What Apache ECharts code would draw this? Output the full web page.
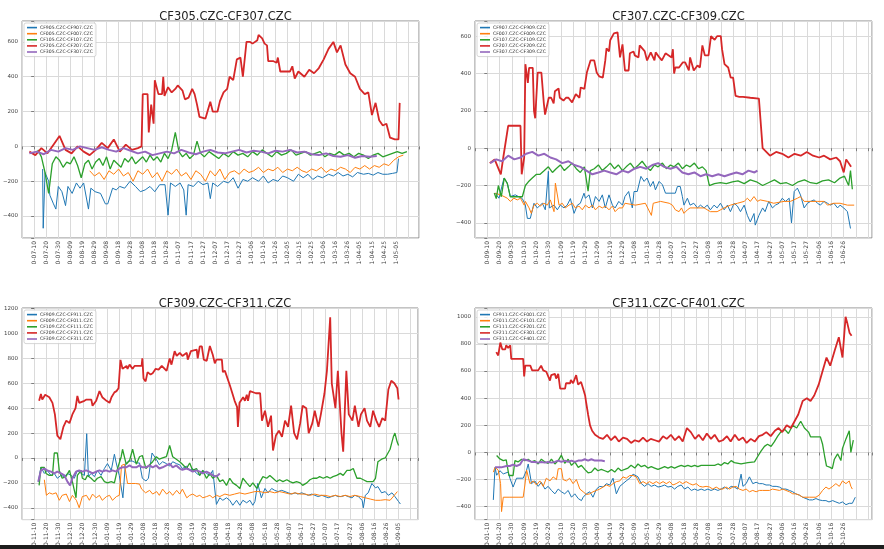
<!DOCTYPE html>
<html><head><meta charset="utf-8">
<script src="https://cdn.jsdelivr.net/npm/echarts@6/dist/echarts.min.js"></script>
<style>html,body{margin:0;padding:0;background:#fff}#c{width:884px;height:549px}</style>
</head><body><div id="c"></div>
<script>
// ---------- DATA (x = days after the first labelled tick) ----------
const p1Title = 'CF305.CZC-CF307.CZC';
const p1Names = ['CF905.CZC-CF907.CZC','CF005.CZC-CF007.CZC','CF105.CZC-CF107.CZC','CF205.CZC-CF207.CZC','CF305.CZC-CF307.CZC'];
const p1Labels = ['0-07-10','0-07-20','0-07-30','0-08-09','0-08-19','0-08-29','0-09-08','0-09-18','0-09-28','0-10-08','0-10-18','0-10-28','0-11-07','0-11-17','0-11-27','0-12-07','0-12-17','0-12-27','1-01-06','1-01-16','1-01-26','1-02-05','1-02-15','1-02-25','1-03-06','1-03-16','1-03-26','1-04-05','1-04-15','1-04-25','1-05-05'];
const p1Blue = [[7,-130],[7.5,-470],[9,-150],[12,-200],[13,-280],[16,-330],[18,-360],[20,-230],[23,-260],[26,-340],[28,-230],[31.5,-270],[35,-210],[38,-240],[41,-210],[45,-360],[47,-240],[50.5,-260],[55,-270],[59,-330],[61,-330],[65,-240],[68,-250],[71,-230],[75,-240],[79.5,-200],[84,-230],[88,-260],[92,-250],[96,-230],[100,-260],[104,-220],[108.5,-220],[111,-395],[113,-210],[117,-230],[121,-210],[124,-250],[126,-395],[127.6,-220],[132,-230],[136,-200],[140,-220],[144,-210],[146,-300],[148,-210],[152,-230],[157,-200],[161,-210],[165,-180],[169,-240],[173,-190],[177,-200],[181,-180],[186,-200],[190,-170],[194,-210],[198,-190],[202,-200],[206,-170],[210,-180],[215,-200],[219,-160],[223,-180],[227,-160],[231,-190],[235,-170],[239,-180],[244,-160],[248,-170],[252,-150],[256,-170],[260,-160],[264,-175],[268,-150],[273,-160],[277,-155],[281,-165],[285,-150],[289,-160],[293,-160],[297,-155],[300.7,-150],[302,-70]];
const p1Orange = [[46,-140],[50,-170],[54,-150],[58,-190],[62,-140],[66,-160],[70,-130],[74,-170],[78,-150],[82,-200],[86,-140],[90,-160],[94,-130],[98,-180],[102,-150],[106,-200],[110,-140],[114,-160],[118,-130],[122,-170],[126,-150],[130,-190],[134,-140],[138,-160],[142,-200],[146,-140],[150,-170],[154,-130],[158,-190],[162,-150],[166,-140],[170,-160],[174,-130],[178,-150],[182,-140],[186,-120],[190,-150],[194,-130],[198,-140],[202,-120],[206,-150],[210,-130],[214,-140],[218,-120],[222,-140],[226,-150],[230,-130],[234,-140],[238,-120],[242,-150],[246,-130],[250,-140],[254,-120],[258,-130],[262,-150],[266,-120],[270,-130],[274,-110],[278,-130],[282,-110],[286,-120],[290,-100],[294,-110],[298,-80],[302,-60],[306,-50]];
const p1Green = [[3,-20],[6,-60],[9,-150],[12,-270],[15,-100],[18,-60],[21,-80],[24,-120],[27,-90],[30,-100],[33,-60],[36,-110],[39,-180],[42,-100],[45,-80],[48,-130],[51,-90],[54,-70],[57,-110],[60,-60],[63,-130],[66,-80],[69,-100],[72,-120],[75,-70],[78,-90],[81,-60],[84,-100],[87,-80],[90,-60],[93,-90],[96,-50],[99,-80],[102,-60],[105,-90],[108,-40],[111,-70],[114,-20],[117,80],[120,-30],[123,-60],[126,-40],[129,-70],[132,-50],[135,30],[138,-40],[141,-60],[145,-30],[149,-50],[153,-70],[157,-40],[161,-60],[165,-30],[169,-50],[173,-40],[177,-60],[181,-30],[185,-50],[189,-20],[193,-40],[197,-60],[201,-30],[205,-50],[209,-40],[213,-20],[217,-50],[221,-40],[225,-30],[229,-50],[233,-40],[237,-30],[241,-60],[245,-40],[249,-50],[253,-30],[257,-50],[261,-40],[265,-60],[269,-40],[273,-50],[277,-70],[281,-50],[285,-40],[289,-60],[293,-50],[297,-40],[301,-30],[305,-40],[309,-30]];
const p1Red = [[-4,-30],[1,-50],[6,-10],[11,-40],[16,10],[21,60],[26,-20],[31,-40],[36,0],[41,-30],[46,-50],[51,-20],[56,20],[61,-10],[66,40],[71,-30],[76,10],[81,-20],[86,-10],[89,0],[90,300],[94,300],[95,80],[97,240],[99,130],[100,380],[103,300],[106,300],[107,400],[108,290],[111,340],[114,310],[117,330],[119,350],[123,320],[125,270],[128,280],[131,330],[133,300],[135,240],[137,170],[142,160],[146,257],[148,200],[152,200],[154,260],[157,310],[160,330],[162,400],[165,380],[168,500],[171,510],[173,400],[176,600],[179,600],[181,590],[185,610],[186,640],[189,620],[191,590],[193,580],[194,490],[198,490],[201,480],[202,510],[204,430],[212,430],[214,460],[216,390],[219,430],[224,400],[228,440],[232,420],[236,450],[240,500],[244,560],[248,600],[251,540],[254,580],[258,470],[262,420],[266,400],[270,330],[274,300],[277,310],[280,180],[283,250],[286,150],[289,120],[292,130],[295,50],[299,40],[302,40],[303,250]];
const p1Purple = [[-4,-40],[2,-30],[8,-45],[14,-20],[20,-30],[26,-10],[32,-20],[38,0],[44,-10],[50,-20],[56,-5],[62,-20],[68,-30],[74,-10],[80,-25],[86,-40],[92,-30],[98,-50],[104,-40],[110,-30],[116,-40],[122,-20],[128,-35],[134,-45],[140,-30],[146,-20],[152,-35],[158,-40],[164,-30],[170,-20],[176,-35],[182,-25],[188,-30],[194,-40],[200,-25],[206,-30],[212,-20],[218,-35],[224,-30],[230,-45],[236,-50],[242,-40],[248,-55],[254,-60],[260,-50],[266,-65],[272,-55],[278,-60],[284,-55]];

const p2Title = 'CF307.CZC-CF309.CZC';
const p2Names = ['CF907.CZC-CF909.CZC','CF007.CZC-CF009.CZC','CF107.CZC-CF109.CZC','CF207.CZC-CF209.CZC','CF307.CZC-CF309.CZC'];
const p2Labels = ['0-09-10','0-09-20','0-09-30','0-10-10','0-10-20','0-10-30','0-11-09','0-11-19','0-11-29','0-12-09','0-12-19','0-12-29','1-01-08','1-01-18','1-01-28','1-02-07','1-02-17','1-02-27','1-03-08','1-03-18','1-03-28','1-04-07','1-04-17','1-04-27','1-05-07','1-05-17','1-05-27','1-06-06','1-06-16','1-06-26'];
const p2Blue = [[6.5,-241],[9.5,-268],[13.6,-160],[16.3,-187],[18.7,-259],[22.8,-250],[28.5,-270],[30.9,-303],[32.6,-376],[35,-376],[38,-295],[40.7,-320],[44.8,-295],[47.2,-330],[49.7,-124],[50.5,-320],[54.3,-305],[57,-330],[59.4,-305],[62.4,-320],[65,-305],[67.6,-270],[70.6,-349],[73.3,-305],[75.7,-295],[78.7,-241],[79.8,-268],[82.8,-250],[85.5,-320],[88,-259],[91,-285],[93.6,-250],[96,-320],[99,-250],[101.8,-305],[104,-320],[107,-285],[110,-305],[112,-259],[115,-232],[118,-320],[119.4,-232],[122,-232],[125,-151],[127.6,-178],[130,-160],[132.7,-205],[135,-178],[136.8,-223],[139.8,-178],[142.5,-196],[145,-241],[153,-241],[154.7,-205],[157,-205],[158.7,-259],[160,-305],[162.8,-268],[165,-305],[168,-295],[171,-320],[173.4,-305],[176.4,-320],[179,-305],[181.5,-330],[184.5,-305],[187,-320],[189.7,-295],[192.7,-330],[195.4,-305],[197.8,-340],[200.8,-295],[203.5,-310],[206,-340],[209,-305],[211.6,-360],[214,-395],[217,-350],[218,-412],[221,-360],[224,-320],[226,-340],[229,-285],[232,-320],[234.4,-305],[237.4,-295],[240,-268],[242.6,-285],[245.6,-268],[247.5,-400],[249.7,-232],[252.3,-214],[254.8,-250],[257.8,-320],[260.5,-295],[263,-285],[266,-277],[268.6,-295],[271,-305],[274,-285],[276.8,-295],[279,-305],[282,-295],[285,-320],[287,-305],[290,-320],[293,-340],[295.5,-430]];
const p2Orange = [[6.5,-241],[8,-232],[10.6,-250],[13.6,-259],[16.3,-268],[18.7,-285],[21.7,-268],[24.4,-277],[27,-268],[30,-305],[31,-285],[34,-320],[35.8,-349],[38,-305],[40.7,-295],[43,-310],[46,-295],[48.8,-305],[51.3,-277],[54.3,-340],[55.4,-187],[58.4,-305],[61,-295],[63.5,-320],[66.5,-305],[69.2,-295],[71.6,-320],[74.6,-310],[77.3,-330],[79.8,-305],[82.8,-320],[85.5,-305],[88,-330],[91,-310],[93.6,-320],[96,-310],[99,-330],[101.8,-310],[104,-340],[107,-320],[110,-320],[112,-295],[120.5,-305],[128.6,-295],[133.5,-360],[135,-295],[141,-285],[148,-295],[150.6,-305],[153,-330],[156,-340],[158,-320],[160,-349],[162.8,-330],[165,-320],[171,-320],[176.4,-320],[181.5,-340],[187,-340],[192.7,-320],[197.8,-305],[203.5,-295],[209,-285],[211.6,-268],[214,-285],[217,-259],[219.8,-285],[222,-277],[228,-285],[233,-295],[241.5,-285],[246.6,-285],[252.3,-268],[254.8,-259],[257.8,-285],[263,-285],[268.6,-285],[274,-285],[276.8,-305],[282,-295],[287,-295],[293,-305],[298.5,-305]];
const p2Green = [[5.7,-240],[7.3,-270],[9,-200],[11.4,-260],[13.8,-160],[16.3,-190],[18.7,-260],[23.6,-260],[28.5,-260],[31,-200],[33.4,-180],[36.6,-160],[40,-140],[43,-140],[46.4,-120],[49.7,-100],[53,-130],[56,-110],[59.4,-90],[62.7,-120],[66,-100],[69,-80],[72.4,-110],[75.7,-130],[79,-100],[82,-230],[83.8,-120],[87,-110],[90.4,-90],[93.6,-120],[97,-100],[100,-80],[103.4,-110],[106.6,-90],[110,-120],[113,-100],[116.4,-80],[119.7,-110],[123,-90],[126,-70],[129.4,-100],[132.7,-120],[136,-90],[139,-100],[142.5,-80],[145.7,-110],[149,-90],[152,-100],[155.5,-80],[158.7,-110],[162,-90],[165,-100],[168.5,-80],[171.8,-110],[175,-100],[178,-120],[180.7,-200],[184.8,-190],[189.7,-185],[194.5,-190],[199.4,-180],[204,-175],[209,-190],[214,-170],[219,-180],[224,-200],[228.7,-185],[233.6,-170],[238.5,-190],[243.4,-185],[248.3,-200],[253,-180],[258,-170],[263,-185],[268,-190],[272.7,-175],[277.6,-170],[282.5,-185],[287,-160],[290.6,-150],[294,-200],[295.5,-120],[297,-220]];
const p2Red = [[2,-80],[6,-60],[11,-140],[13,-50],[17,120],[23,120],[27,120],[28,-140],[30,-50],[31,450],[33,350],[34,430],[37,430],[38,200],[39,160],[41,405],[44,405],[46,240],[47,180],[50,270],[52,270],[54,240],[55,305],[58,320],[59,270],[62,255],[64,270],[66,270],[69,245],[72,290],[75,270],[76,325],[79,318],[81,405],[84,470],[87,470],[89,405],[91,385],[94,378],[96,470],[97,535],[99,518],[100,578],[103,615],[106,620],[107,620],[108,486],[110,556],[112,416],[115,416],[116,508],[119,518],[120,497],[123,486],[124,550],[128,520],[130,470],[133,513],[136,470],[137,513],[140,486],[142,470],[145,508],[150,486],[151,530],[152,400],[153,432],[156,432],[159,459],[161,459],[164,416],[165,486],[168,416],[171,443],[173,432],[175,550],[177,497],[180,497],[182,600],[185,580],[187,600],[190,600],[191,530],[193,450],[196,432],[198,378],[200,378],[202,280],[205,275],[208,275],[214,270],[221,265],[224,0],[227,-20],[230,-40],[235,-20],[240,-30],[245,-50],[250,-30],[255,-40],[260,-20],[265,-40],[270,-50],[274,-40],[279,-60],[284,-50],[287,-70],[290,-130],[292,-60],[296,-100]];
const p2Purple = [[2.4,-80],[7.3,-60],[12,-70],[17,-40],[22,-60],[27,-50],[31.7,-30],[36.6,-20],[41.5,-40],[46.4,-30],[51.3,-50],[56,-60],[61,-80],[66,-70],[70.8,-90],[75.7,-100],[80.6,-120],[85.5,-140],[90.4,-130],[95.2,-120],[100,-130],[105,-140],[110,-120],[114.8,-130],[119.7,-110],[124.5,-100],[129.4,-110],[134.3,-90],[139,-80],[144,-100],[149,-110],[153.8,-100],[158.7,-130],[163.6,-140],[168.5,-130],[173.4,-150],[178,-140],[183,-150],[188,-140],[193,-150],[197.8,-140],[202.7,-130],[207.6,-140],[212.5,-120],[217.4,-130],[219.8,-120]];

const p3Title = 'CF309.CZC-CF311.CZC';
const p3Names = ['CF909.CZC-CF911.CZC','CF009.CZC-CF011.CZC','CF109.CZC-CF111.CZC','CF209.CZC-CF211.CZC','CF309.CZC-CF311.CZC'];
const p3Labels = ['0-11-10','0-11-20','0-11-30','0-12-10','0-12-20','0-12-30','1-01-09','1-01-19','1-01-29','1-02-08','1-02-18','1-02-28','1-03-09','1-03-19','1-03-29','1-04-08','1-04-18','1-04-28','1-05-08','1-05-18','1-05-28','1-06-07','1-06-17','1-06-27','1-07-07','1-07-17','1-07-27','1-08-06','1-08-16','1-08-26','1-09-05'];
const p3Blue = [[3.3,-192],[5.5,-75],[8.3,-124],[10.7,-100],[13.8,-140],[16.5,-124],[19,-163],[22,-140],[24.8,-150],[27.3,-124],[30.3,-140],[33,-163],[35.5,-100],[38.6,-124],[41.3,-140],[43.2,195],[44.6,-150],[46.8,-124],[49.6,-150],[52,-100],[55,-140],[57.8,-84],[60.3,-45],[63.4,-100],[66,30],[67.5,-40],[70,-140],[73,-320],[75,-50],[77.6,-25],[80.7,-25],[84,-40],[86.7,-40],[89,-163],[92,-185],[94,-163],[97,40],[100.5,-10],[103,-55],[105.7,-30],[108.8,-45],[111.5,-65],[114,-30],[117,-45],[119.8,-55],[122,-85],[125.3,-65],[128,-100],[130.5,-85],[133.6,-124],[136.3,-140],[138.8,-100],[141.8,-124],[144.6,-140],[147,-100],[150,-373],[152.8,-320],[155.3,-340],[158.3,-320],[161,-340],[163.5,-380],[166.6,-340],[169.3,-380],[171.8,-340],[174.9,-360],[177.6,-340],[180,-380],[181.7,-350],[184,-205],[187,-320],[190,-245],[192.5,-280],[195.5,-245],[198,-260],[200.7,-270],[203.8,-260],[206.5,-270],[209,-280],[212,-290],[214.8,-280],[217,-290],[220.3,-280],[223,-290],[225.5,-300],[228.6,-290],[231,-300],[233.8,-310],[236.8,-300],[239.5,-310],[242,-320],[245,-310],[248,-300],[250,-310],[253,-310],[256,-300],[258.5,-310],[261.6,-320],[264,-300],[266.8,-310],[270,-340],[271,-400],[272.6,-300],[275,-280],[278,-205],[281,-240],[283,-230],[286,-280],[289,-270],[291.6,-300],[294.6,-280],[297,-310],[300,-350],[301.5,-370]];
const p3Orange = [[8.3,-175],[10,-300],[12.4,-280],[15,-290],[18,-280],[20.6,-340],[23,-300],[26.4,-290],[29,-350],[31.4,-300],[34.7,-340],[37,-400],[39.6,-310],[43,-300],[45.4,-340],[48,-290],[51,-320],[53.7,-300],[56,-340],[59.5,-310],[62,-300],[64.4,-340],[67.7,-310],[70,-300],[71.9,-60],[74.3,-50],[76.8,-205],[80,-205],[83.4,-205],[86.7,-210],[88.4,-250],[91.7,-280],[95,-260],[97.5,-290],[100.8,-270],[103,-300],[105.7,-250],[109,-290],[111.5,-270],[114,-300],[117.3,-260],[119.8,-290],[122,-250],[125.6,-320],[128,-300],[130.5,-290],[133.8,-310],[136.3,-300],[138.8,-320],[142,-310],[144.6,-300],[147,-320],[150,-300],[152.8,-310],[157,-290],[161,-300],[165,-290],[169,-280],[173.5,-290],[177.6,-280],[181.7,-270],[186,-270],[190,-280],[194,-270],[198,-280],[202,-270],[206.5,-280],[210.6,-290],[214.8,-280],[219,-290],[223,-290],[227,-300],[231,-290],[235,-300],[239.5,-300],[243.7,-310],[248,-300],[252,-310],[256,-300],[260,-310],[264,-300],[268.5,-310],[272.6,-320],[276.7,-330],[281,-340],[285,-340],[289,-335],[293,-340],[296.5,-300],[299,-270]];
const p3Green = [[4,-220],[5.5,-75],[8.3,-75],[9.7,-125],[12.4,-140],[15,-140],[16.5,40],[19,40],[20.6,-100],[23,-163],[26,-150],[29,-100],[31.4,-190],[34.4,-320],[35.5,-140],[38.6,-100],[39.6,-163],[42,-175],[43.8,-140],[46.8,-163],[49.6,-190],[52,-163],[55,-150],[57.8,-190],[60.3,-200],[63.4,-190],[66,-200],[68.6,-85],[71.6,10],[72.7,70],[75.7,-50],[78.5,-20],[81,70],[84,-50],[86.7,10],[89,20],[92,-85],[95,-55],[97.5,-30],[100.5,10],[103,-10],[105.7,0],[108.8,10],[111.5,100],[114,10],[117,-10],[119.8,-30],[122,-50],[125.3,-85],[128,-40],[130.5,-100],[133.6,-85],[136.3,-140],[138.8,-100],[141.8,-163],[144.6,-124],[147,-163],[150,-140],[152.8,-190],[155.3,-175],[158.3,-220],[161,-163],[163.5,-200],[166.6,-220],[169.3,-245],[171.8,-163],[174.9,-200],[177.6,-230],[180,-200],[183.3,-245],[186,-190],[188.3,-150],[191.4,-163],[194,-140],[196.6,-163],[199.6,-190],[202,-175],[204.8,-190],[208,-175],[210.6,-190],[213,-200],[216,-190],[219,-200],[221,-220],[224.4,-200],[227,-175],[229.6,-163],[232.7,-163],[235,-150],[238,-163],[241,-150],[243.7,-163],[246,-150],[249,-140],[252,-124],[254.4,-140],[257.5,-100],[260,-100],[262.7,-85],[265.7,-163],[268.5,-163],[271,-175],[274,-190],[276.7,-190],[279,-190],[281,-163],[283,-30],[286,-10],[289,0],[290.5,10],[293,70],[294.6,130],[295.7,170],[297,200],[298.8,130],[300,100]];
const p3Red = [[4,459],[5.5,514],[6.6,469],[9,508],[10.7,498],[12.4,488],[13.8,482],[15,443],[17,350],[19,180],[21.5,150],[24,250],[26.4,300],[29,280],[31.4,350],[34,400],[35.5,498],[37,443],[41.3,459],[43,469],[47,469],[48,420],[51,460],[53.7,537],[56,488],[59.5,459],[62,443],[63.6,488],[66,527],[67.7,537],[69.4,560],[71,788],[72.7,716],[76,740],[76.8,716],[78.5,750],[81,716],[82.6,740],[86.7,740],[88.4,740],[89,800],[90,638],[91.7,615],[93.3,690],[95.8,670],[97.5,680],[100,716],[102.4,710],[105,740],[106.6,730],[109,700],[111.5,800],[113,750],[115.6,858],[117.3,820],[119.8,845],[122,820],[125.6,845],[126.4,790],[129,858],[130.5,845],[133.8,870],[134.6,800],[136.3,897],[138,897],[139.6,790],[142,780],[143,780],[144.6,900],[147,830],[148.7,760],[150,790],[154.5,790],[155.3,690],[157,700],[158.6,690],[161,586],[163.5,508],[165,459],[167,410],[167.7,250],[169,443],[172,488],[173.5,459],[175,508],[176,459],[177.6,537],[182.5,520],[186,520],[187.5,300],[190,380],[192.5,250],[195,340],[196.6,60],[199,180],[201.5,220],[204,170],[206.5,300],[209,250],[211.5,420],[214,200],[216.4,150],[219,280],[221,420],[224,400],[226,200],[229,280],[231,380],[234,250],[236,350],[239,520],[241,700],[243.7,1130],[245,600],[248,400],[250,700],[253,200],[254.4,50],[257,700],[259,350],[262,300],[264,420],[267,250],[269,350],[272,400],[274,300],[276.7,250],[279,380],[281.7,300],[284,250],[286.6,320],[289,300],[291.6,550],[294,620],[296.5,600],[299,560],[300,470]];
const p3Purple = [[3.3,-190],[5.5,-100],[8.3,-85],[10.7,-100],[13.8,-110],[16.5,-124],[19,-110],[22,-124],[24.8,-140],[27.3,-190],[29.5,-220],[31.4,-163],[34.4,-110],[37,-100],[39.6,-110],[42.7,-100],[45.4,-110],[48,-124],[51,-110],[53.7,-100],[56,-110],[59,-100],[62,-110],[64.4,-100],[67.5,-110],[70,-85],[72.7,-75],[75.7,-75],[78.5,-60],[81,-75],[84,-75],[86.7,-60],[89,-75],[92,-75],[95,-60],[97.5,-75],[100.5,-60],[103,-85],[105.7,-75],[108.8,-60],[111.5,-45],[114,-75],[117,-60],[119.8,-85],[122,-95],[125.3,-85],[128,-95],[130.5,-110],[133.6,-100],[136.3,-110],[138.8,-124],[141.8,-110],[144.6,-124],[147,-140],[150,-150],[152.8,-124]];

const p4Title = 'CF311.CZC-CF401.CZC';
const p4Names = ['CF911.CZC-CF001.CZC','CF011.CZC-CF101.CZC','CF111.CZC-CF201.CZC','CF211.CZC-CF301.CZC','CF311.CZC-CF401.CZC'];
const p4Labels = ['0-01-10','0-01-20','0-01-30','0-02-09','0-02-19','0-02-29','0-03-10','0-03-20','0-03-30','0-04-09','0-04-19','0-04-29','0-05-09','0-05-19','0-05-29','0-06-08','0-06-18','0-06-28','0-07-08','0-07-18','0-07-28','0-08-07','0-08-17','0-08-27','0-09-06','0-09-16','0-09-26','0-10-06','0-10-16','0-10-26'];
const p4Blue = [[4.9,-350],[6.3,-110],[7.6,-168],[10.3,-135],[13,-158],[17,-145],[18.4,-190],[21,-255],[23.8,-190],[29.2,-190],[32,-130],[33.3,-85],[36,-230],[38.7,-210],[41.4,-250],[44,-220],[46.9,-270],[49.5,-250],[52.2,-280],[55,-305],[57.7,-270],[60.3,-290],[63,-305],[65.8,-280],[68.5,-330],[71.2,-305],[74,-340],[76.6,-355],[78,-330],[80.6,-305],[83.4,-290],[86,-330],[88.8,-270],[91.5,-250],[94.2,-255],[96.9,-230],[99.6,-240],[102.3,-190],[105,-305],[107.8,-250],[110.4,-230],[113,-210],[115.9,-190],[118.6,-160],[120,-150],[122.6,-180],[125.3,-230],[128,-250],[130.7,-230],[133.4,-250],[136.2,-240],[138.9,-255],[141.5,-250],[144.3,-240],[147,-255],[149.7,-250],[152.4,-270],[155,-250],[157.8,-240],[160.5,-270],[163.2,-255],[166,-280],[168.7,-270],[171.3,-280],[174,-270],[176.8,-280],[179.5,-270],[182,-280],[185,-270],[187.6,-280],[190.3,-270],[193,-255],[195.7,-270],[198.4,-250],[201,-255],[203.8,-270],[206.5,-160],[208,-250],[210.6,-230],[213.3,-180],[216,-230],[218.7,-220],[221.4,-230],[224,-230],[226.8,-240],[229.6,-240],[232,-250],[235,-250],[237.7,-255],[240.4,-270],[243,-270],[245.8,-280],[248.5,-290],[251,-305],[254,-315],[256.6,-330],[259.3,-340],[262,-350],[264.7,-350],[267.4,-340],[270,-350],[272.8,-355],[275.5,-355],[278,-365],[281,-355],[283.6,-365],[286.4,-375],[289,-365],[291.8,-385],[294.5,-375],[297,-375],[299.4,-330]];
const p4Orange = [[4.9,-145],[6.3,-110],[8.9,-130],[10.8,-230],[11.6,-436],[13,-330],[18.4,-330],[25,-330],[29.2,-330],[30.6,-240],[32,-130],[34.7,-230],[37.4,-210],[40,-240],[42.8,-210],[45.5,-250],[48,-190],[51,-210],[53.6,-180],[56.3,-200],[57.7,-120],[60.3,-120],[61.7,-200],[64.4,-210],[67,-190],[69.8,-230],[72.5,-200],[75.3,-270],[78,-290],[80.6,-310],[83.4,-305],[86,-290],[88.8,-280],[91.5,-270],[94.2,-255],[96.9,-240],[99.6,-250],[102.3,-230],[105,-215],[107.8,-210],[110.4,-180],[113,-190],[115.9,-170],[118.6,-170],[121.2,-180],[124,-230],[126.7,-215],[129.4,-230],[132,-215],[134.8,-230],[137.5,-215],[140.2,-230],[143,-215],[145.6,-230],[148.4,-215],[151,-240],[153.7,-230],[156.5,-215],[159,-230],[161.8,-215],[164.6,-230],[167.3,-240],[170,-230],[172.7,-250],[175.4,-255],[178,-250],[180.8,-255],[183.5,-270],[186.2,-255],[189,-270],[191.6,-270],[194.3,-255],[197,-270],[199.8,-255],[202.4,-250],[205,-270],[208,-280],[210.6,-270],[213.3,-290],[216,-280],[218.7,-290],[221.4,-280],[224,-280],[229.6,-280],[232,-270],[237.7,-280],[240.4,-270],[243,-280],[245.8,-290],[248.5,-305],[251,-305],[254,-315],[256.6,-330],[262,-330],[267.4,-330],[270,-315],[272.8,-280],[275.5,-255],[278,-270],[281,-250],[283.6,-230],[286.4,-250],[289,-210],[291.8,-230],[294.5,-210],[295.8,-250],[297,-270]];
const p4Green = [[7.6,-22],[10.3,-48],[13,-60],[15.4,-55],[17.6,-170],[21,-170],[22.5,-60],[25,-70],[27.9,-50],[30.6,-60],[33.3,-50],[36,-70],[38.7,-60],[41.4,-85],[44,-50],[46.9,-70],[49.5,-80],[52.2,-50],[55,-85],[57.7,-60],[60.3,-20],[63,-80],[65.8,-50],[68.5,-95],[71.2,-70],[74,-110],[76.6,-95],[79.3,-125],[82,-150],[84.7,-145],[87.5,-115],[90,-135],[92.8,-125],[95.6,-135],[98.3,-145],[101,-125],[103.7,-145],[106.4,-115],[109,-135],[111.8,-125],[114.5,-115],[117,-95],[120,-115],[122.6,-85],[125.3,-105],[128,-95],[130.7,-115],[133.4,-105],[136.2,-115],[138.9,-125],[141.5,-115],[144.3,-105],[147,-115],[149.7,-105],[152.4,-115],[155,-105],[157.8,-95],[160.5,-105],[163.2,-95],[166,-105],[168.7,-95],[171.3,-105],[174,-95],[179.5,-95],[185,-95],[187.6,-85],[190.3,-95],[193,-75],[195.7,-85],[198.4,-60],[201,-75],[206.5,-85],[212,-75],[217.4,-70],[220,-30],[222.7,10],[225.5,45],[228,60],[230.9,45],[233.6,80],[236.3,120],[238.7,150],[242,170],[245,140],[248.5,200],[251.7,180],[255,230],[258,180],[261.4,150],[263,115],[267,115],[271,115],[272.8,60],[274.5,-30],[276,-100],[279,-110],[280.7,-120],[282.4,-50],[285,-10],[287.7,-60],[289,30],[291.8,100],[294.5,160],[295.8,0],[297.8,90]];
const p4Red = [[7.3,740],[8.9,715],[10.6,810],[12.2,760],[14.6,760],[15.4,790],[17,770],[18.7,790],[19.5,690],[24.4,690],[29.2,690],[30,560],[30.9,640],[35,640],[36.5,605],[41.4,605],[43.8,640],[45.5,605],[48,595],[51,530],[52,570],[55,580],[56,545],[57.7,580],[59.3,470],[63.3,470],[64,510],[67.4,510],[68,535],[69.8,510],[72.3,570],[73.9,500],[76.3,520],[78,470],[79.6,420],[80.4,370],[82,280],[83.6,200],[85.3,160],[87.7,130],[91,110],[94.2,100],[97.4,130],[100.7,90],[104,120],[107,80],[110.4,110],[113.7,100],[117,70],[120,90],[123.4,80],[126.7,110],[130,80],[133,100],[136.4,90],[139.7,80],[143,120],[146,100],[149.4,130],[152.7,90],[156,120],[159,80],[162.4,180],[165.6,150],[169,100],[172,130],[175.4,90],[178.6,140],[182,100],[185,130],[188.4,80],[191.6,90],[195,120],[198,80],[201.4,130],[204.6,90],[208,110],[211,70],[214.4,100],[217.6,80],[221,120],[224,130],[227,150],[230.6,120],[234,160],[237,180],[240,150],[243.6,200],[247,180],[250,230],[253,280],[256.6,380],[260,400],[263,380],[266,420],[269.6,500],[272.8,600],[276,700],[279,640],[282.6,750],[286,850],[289,700],[291.5,1000],[293,950],[294.8,880],[296.4,860]];
const p4Purple = [[6.3,-110],[11.4,-110],[15.7,-100],[18.4,-100],[21,-90],[23.8,-100],[26.5,-90],[29.2,-50],[30.6,-60],[33.3,-60],[36,-70],[38.7,-70],[41.4,-75],[44,-70],[46.9,-75],[49.5,-70],[52.2,-75],[55,-70],[57.7,-60],[60.3,-70],[63,-60],[65.8,-70],[68.5,-60],[71.2,-70],[74,-60],[76.6,-60],[79.3,-50],[82,-60],[84.7,-50],[87.5,-60],[90,-60],[92.8,-60],[95.6,-65]];

// ---------- LAYOUT / STYLE ----------
const colors = ['#1f77b4','#ff7f0e','#2ca02c','#d62728','#9467bd'];
const widths = [1, 1, 1.3, 1.8, 2];
const panels = [
  {title:p1Title, names:p1Names, labels:p1Labels, data:[p1Blue,p1Orange,p1Green,p1Red,p1Purple], grid:{left:22,top:21,width:397,height:217}, xMax:319, yMin:-526, yMax:720},
  {title:p2Title, names:p2Names, labels:p2Labels, data:[p2Blue,p2Orange,p2Green,p2Red,p2Purple], grid:{left:475,top:21,width:397,height:217}, xMax:313, yMin:-481, yMax:681},
  {title:p3Title, names:p3Names, labels:p3Labels, data:[p3Blue,p3Orange,p3Green,p3Red,p3Purple], grid:{left:22,top:308,width:396,height:216}, xMax:316, yMin:-495, yMax:1205},
  {title:p4Title, names:p4Names, labels:p4Labels, data:[p4Blue,p4Orange,p4Green,p4Red,p4Purple], grid:{left:475,top:308,width:397,height:216}, xMax:313, yMin:-495, yMax:1065}
];
const FONT = 'DejaVu Sans';
const option = {animation:false, backgroundColor:'#fff', title:[], grid:[], xAxis:[], yAxis:[], legend:[], series:[], graphic:[]};
panels.forEach((p, k) => {
  option.grid.push(Object.assign({show:true, borderColor:'#888', borderWidth:1, backgroundColor:'transparent', containLabel:false}, p.grid));
  option.title.push({text:p.title, left:p.grid.left + p.grid.width/2, top:p.grid.top - 15, textAlign:'center',
    textStyle:{fontFamily:FONT, fontSize:11.5, fontWeight:'normal', color:'#222'}});
  const labels = p.labels;
  option.xAxis.push({type:'value', gridIndex:k, min:-10, max:p.xMax, interval:10,
    axisLine:{show:false}, axisTick:{show:true, length:3, lineStyle:{color:'#666', width:0.8}},
    splitLine:{show:true, lineStyle:{color:'#dadada', width:1}},
    axisLabel:{show:true, rotate:90, fontSize:6, fontFamily:FONT, color:'#444', margin:3, showMinLabel:true, showMaxLabel:true,
      formatter:v => { const i = Math.round(v/10); return (Math.abs(v - i*10) < 1e-6 && i >= 0 && i < labels.length) ? labels[i] : ''; }}});
  option.yAxis.push({type:'value', gridIndex:k, min:p.yMin, max:p.yMax, minInterval:200, maxInterval:200,
    axisLine:{show:false}, axisTick:{show:true, length:3, lineStyle:{color:'#666', width:0.8}},
    splitLine:{show:true, lineStyle:{color:'#dadada', width:1}},
    axisLabel:{fontSize:5.5, fontFamily:FONT, color:'#444', margin:4,
      formatter:v => (Math.abs(v % 200) < 1e-6) ? String(Math.round(v)).replace('-', '\u2212') : ''}});
  option.legend.push({data:p.names, orient:'vertical', left:p.grid.left + 2, top:p.grid.top + 2,
    icon:'rect', itemWidth:10, itemHeight:1.6, itemGap:0.9, padding:[2,3,2,3],
    backgroundColor:'rgba(255,255,255,0.85)', borderColor:'#cccccc', borderWidth:0.8, borderRadius:2,
    textStyle:{fontFamily:FONT, fontSize:4.6, color:'#333', lineHeight:5.2, padding:[0,0,0,-2]}});
  p.data.forEach((d, j) => {
    option.series.push({type:'line', name:p.names[j], xAxisIndex:k, yAxisIndex:k, data:d,
      showSymbol:false, symbol:'none', color:colors[j], lineStyle:{color:colors[j], width:widths[j]}, z:2+j});
  });
});
option.graphic.push({type:'rect', left:0, top:545, shape:{width:884, height:4}, style:{fill:'#1d1d1d'}, z:100});
const chart = echarts.init(document.getElementById('c'), null, {renderer:'canvas'});
chart.setOption(option);
</script></body></html>
